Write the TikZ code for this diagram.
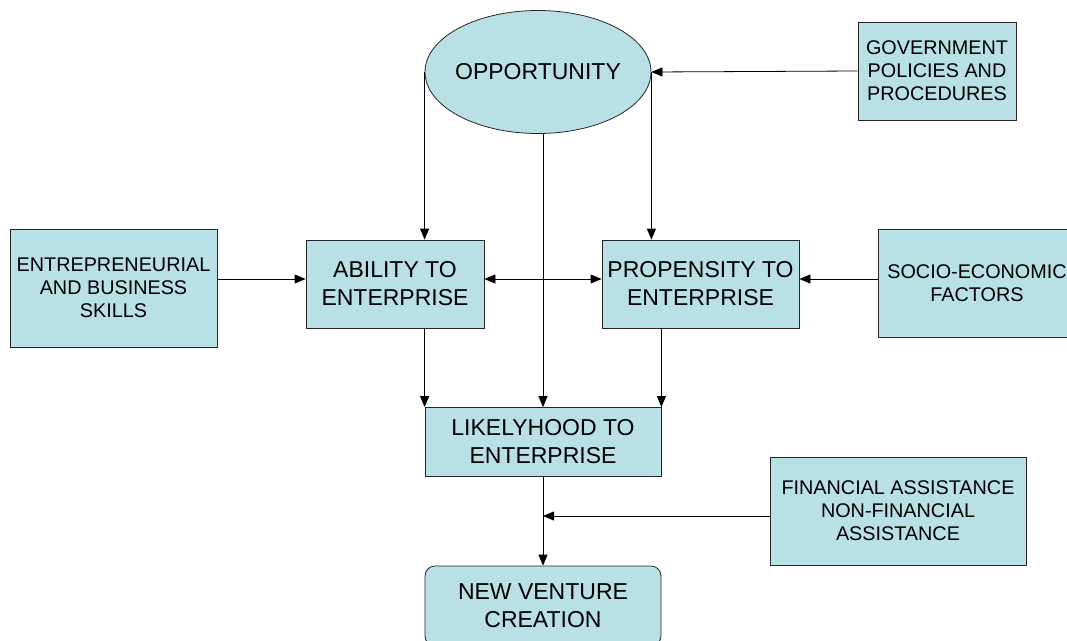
\documentclass[tikz,border=0pt]{standalone}
\usepackage{fontspec}
\setmainfont{Liberation Sans}
\usepackage{tikz}
\usetikzlibrary{shapes.geometric,arrows.meta,positioning}
\definecolor{boxfill}{RGB}{185,224,228}
\def\bigtxt{\fontsize{23}{28}\selectfont}
\def\smalltxt{\fontsize{19.8}{23}\selectfont}

\begin{document}
\begin{tikzpicture}[x=1pt,y=-1pt,line width=0.8pt]
      \tikzset{box/.style={draw=black!85,fill=boxfill,align=center,inner sep=0pt},
        big/.style={box,font=\bigtxt},
        small/.style={box,font=\smalltxt},
        arr/.style={-{Triangle[length=11pt,width=9pt]}},
        dbl/.style={{Triangle[length=11pt,width=9pt]}-{Triangle[length=11pt,width=9pt]}}}
      \useasboundingbox (0,0) rectangle (1067,640);
      \node[big,ellipse,inner sep=-4pt,minimum width=226,minimum height=123] (opp) at (538,72) {OPPORTUNITY};
      \node[small,minimum width=158,minimum height=98] (gov) at (937,71) {GOVERNMENT\\POLICIES AND\\PROCEDURES};
      \node[small,minimum width=207,minimum height=118] (ent) at (113.5,288) {ENTREPRENEURIAL\\AND BUSINESS\\SKILLS};
      \node[big,minimum width=178,minimum height=88] (abil) at (395,284) {ABILITY TO\\ENTERPRISE};
      \node[big,minimum width=197,minimum height=88] (prop) at (700.5,284) {PROPENSITY TO\\ENTERPRISE};
      \node[small,minimum width=198,minimum height=108] (socio) at (977,283) {SOCIO-ECONOMIC\\FACTORS};
      \node[big,minimum width=236,minimum height=69] (like) at (543,442) {LIKELYHOOD TO\\ENTERPRISE};
      \node[small,minimum width=256,minimum height=108] (fin) at (898,511) {FINANCIAL ASSISTANCE\\NON-FINANCIAL\\ASSISTANCE};
      \node[big,rounded corners=10pt,minimum width=236,minimum height=80] (nvc) at (543,606) {NEW VENTURE\\CREATION};
      \coordinate (row) at (0,279);
      \coordinate (join) at (543,516);
      % connectors
      \draw[arr] (gov.west) -- (opp.east);
      \draw[arr] (opp.west) -- (opp.west |- abil.north);
      \draw[arr] (opp.east) -- (opp.east |- prop.north);
      \draw[arr] (like.north |- opp.south) -- (like.north);
      \draw[arr] (ent.east |- row) -- (abil.west |- row);
      \draw[dbl] (abil.east |- row) -- (prop.west |- row);
      \draw[arr] (socio.west |- row) -- (prop.east |- row);
      \draw[arr] (opp.west |- abil.south) -- (opp.west |- like.north);
      \draw[arr] (like.north east |- prop.south) -- (like.north east);
      \draw[arr] (like.south) -- (nvc.north);
      \draw[arr] (fin.west |- join) -- (join);
\end{tikzpicture}
\end{document}
